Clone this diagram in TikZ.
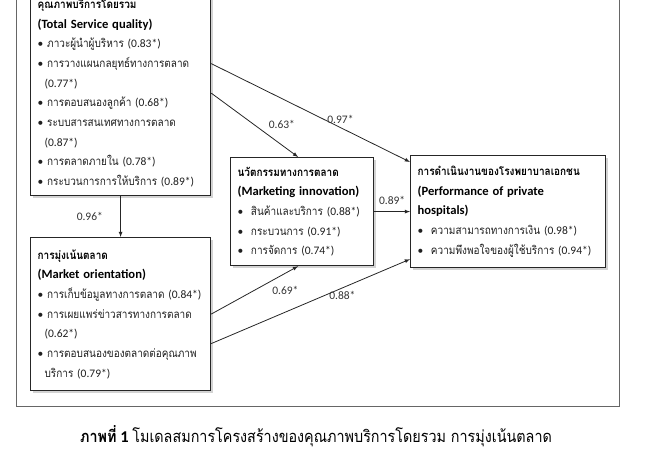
\documentclass[tikz,border=0pt]{standalone}
\usepackage{fontspec}
\setmainfont{Carlito}
\newfontfamily\thaifont[Script=Thai,FakeStretch=0.87]{Loma}
\newcommand{\tf}[1]{{\thaifont #1}}
\newcommand{\ttl}[1]{{\fontsize{12.6}{19.7}\selectfont\bfseries #1}}
\usetikzlibrary{shadows,arrows}

\begin{document}
\begin{tikzpicture}[x=1pt, y=-1pt, >=latex,
    box/.style={draw=black!85, line width=1.2pt, fill=white, align=left, anchor=north west,
      inner xsep=7pt, inner ysep=0pt, text=black!88,
      drop shadow={shadow xshift=2pt, shadow yshift=-2pt, opacity=0.35},
      font=\fontsize{11.5}{19.7}\selectfont},
    link/.style={->, line width=0.8pt, black!85},
    lbl/.style={font=\fontsize{11.5}{13}\selectfont, text=black!80}]
        \useasboundingbox (0,0) rectangle (650,450);

        % Outer frame of the figure
        \draw[black!60, line width=1pt] (16,-20) rectangle (619,406);

        % The four constructs
        \node[box, text width=166pt, minimum height=205pt] (tsq) at (30,-10) {%
            \textcolor{black}{\textbf{\tf{คุณภาพบริการโดยรวม}}}\\
            \textcolor{black}{\ttl{(Total Service quality)}}\\
            • \tf{ภาวะผู้นำผู้บริหาร} (0.83*)\\
            • \tf{การวางแผนกลยุทธ์ทางการตลาด}\\
            \hspace*{7pt}(0.77*)\\
            • \tf{การตอบสนองลูกค้า} (0.68*)\\
            • \tf{ระบบสารสนเทศทางการตลาด}\\
            \hspace*{7pt}(0.87*)\\
            • \tf{การตลาดภายใน} (0.78*)\\
            • \tf{กระบวนการการให้บริการ} (0.89*)};

        \node[box, text width=166pt, minimum height=153pt] (mo) at (30,237) {%
            \textcolor{black}{\textbf{\tf{การมุ่งเน้นตลาด}}}\\
            \textcolor{black}{\ttl{(Market orientation)}}\\
            • \tf{การเก็บข้อมูลทางการตลาด} (0.84*)\\
            • \tf{การเผยแพร่ข่าวสารทางการตลาด}\\
            \hspace*{7pt}(0.62*)\\
            • \tf{การตอบสนองของตลาดต่อคุณภาพ}\\
            \hspace*{7pt}\tf{บริการ} (0.79*)};

        \node[box, text width=129pt, minimum height=108pt] (mi) at (230,157) {%
            \textcolor{black}{\textbf{\tf{นวัตกรรมทางการตลาด}}}\\
            \textcolor{black}{\ttl{(Marketing innovation)}}\\
            •\ \ \tf{สินค้าและบริการ} (0.88*)\\
            •\ \ \tf{กระบวนการ} (0.91*)\\
            •\ \ \tf{การจัดการ} (0.74*)};

        \node[box, text width=181pt, minimum height=112pt] (perf) at (410,155) {%
            \textcolor{black}{\textbf{\tf{การดำเนินงานของโรงพยาบาลเอกชน}}}\\
            \textcolor{black}{\ttl{(Performance of private}}\\
            \textcolor{black}{\ttl{hospitals)}}\\
            •\ \ \tf{ความสามารถทางการเงิน} (0.98*)\\
            •\ \ \tf{ความพึงพอใจของผู้ใช้บริการ} (0.94*)};

        % Paths with their coefficients
        \draw[link] (tsq.south) -- (mo.north) node[lbl, midway, left=14pt] {0.96*};
        \draw[link] ([yshift=29.5pt]tsq.east) -- ([yshift=-7pt]perf.north west) node[lbl, pos=0.65, above] {0.97*};
        \draw[link] (tsq.east) -- ([xshift=-4pt]mi.north) node[lbl, pos=0.62, above right] {0.63*};
        \draw[link] (mi.east) -- (perf.west) node[lbl, midway, above=3pt] {0.89*};
        \draw[link] (mo.east) -- ([xshift=-4pt]mi.south) node[lbl, pos=0.66, below right] {0.69*};
        \draw[link] ([yshift=-29.5pt]mo.east) -- ([yshift=9pt]perf.south west) node[lbl, pos=0.66, below] {0.88*};

        % Caption
        \node[font=\fontsize{16.5}{20}\selectfont] (cap) at (316,436) {\textbf{\tf{ภาพที่} 1} \tf{โมเดลสมการโครงสร้างของคุณภาพบริการโดยรวม การมุ่งเน้นตลาด}};
    \end{tikzpicture}
\end{document}
